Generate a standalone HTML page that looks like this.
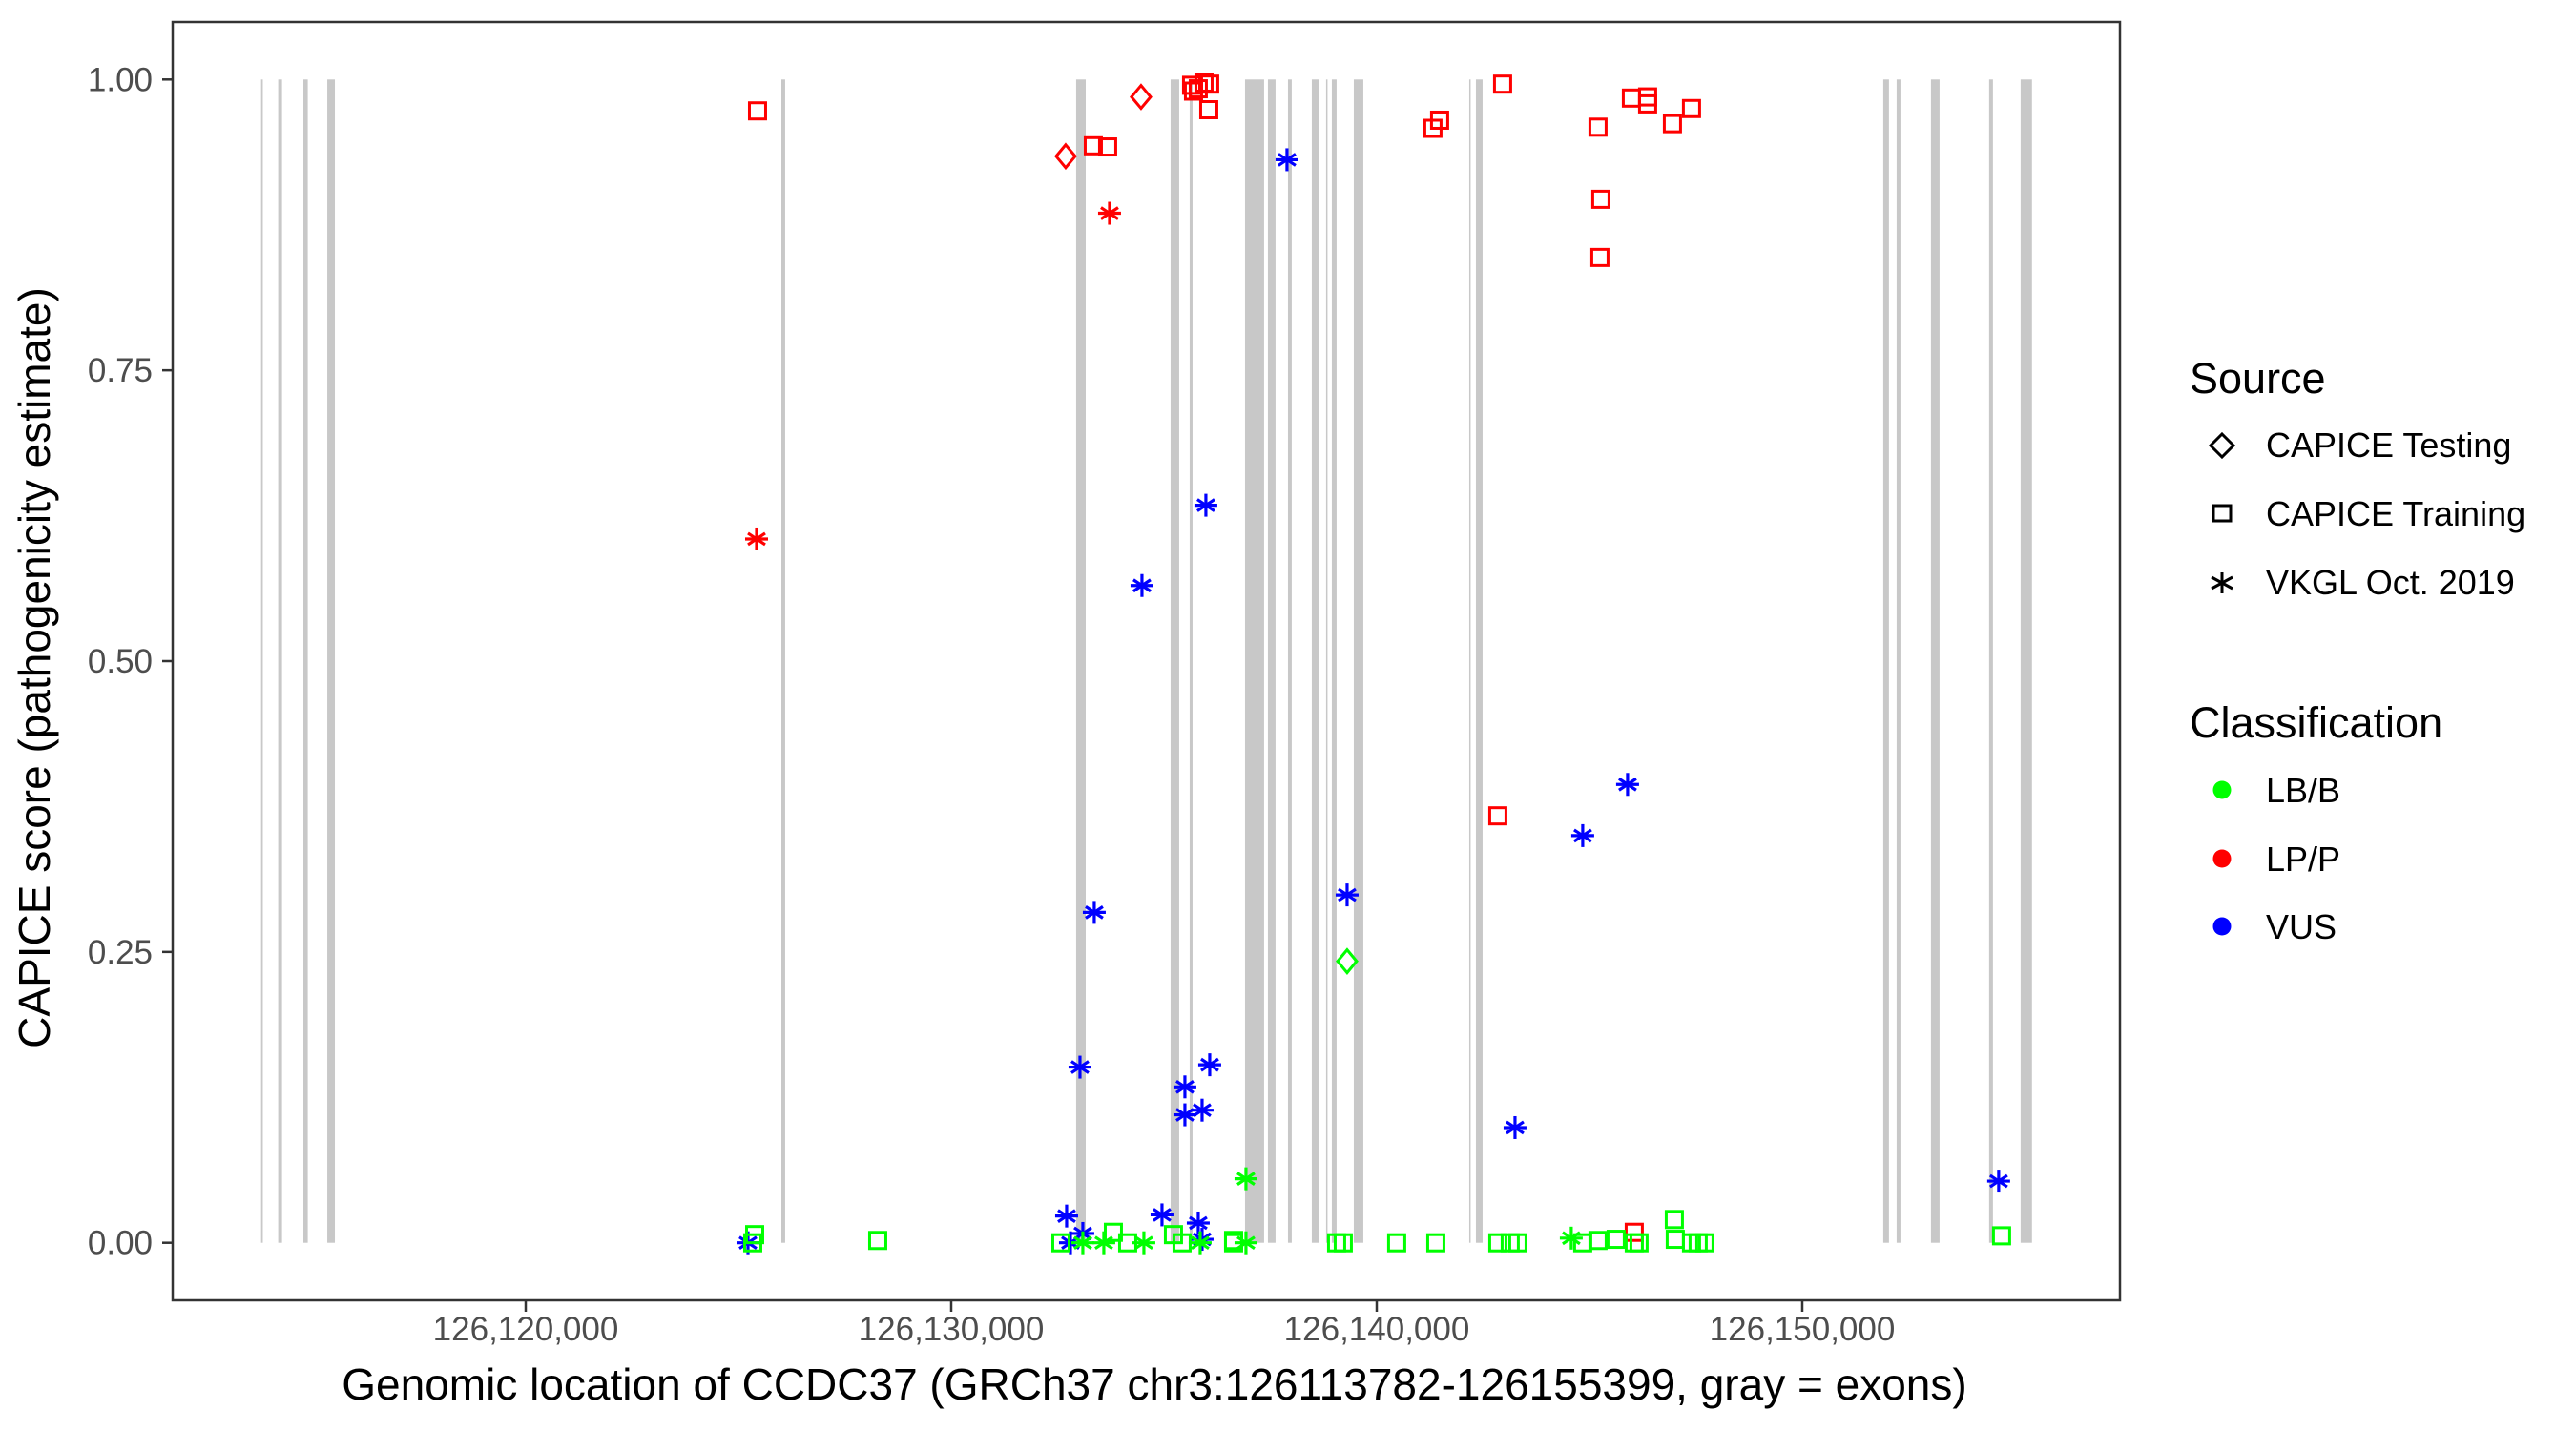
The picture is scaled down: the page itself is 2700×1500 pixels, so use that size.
<!DOCTYPE html>
<html><head><meta charset="utf-8">
<style>
html,body{margin:0;padding:0;background:#fff;}
svg{display:block;font-family:"Liberation Sans",Arial,sans-serif;}
</style></head>
<body>
<svg id="chart" width="2700" height="1500" viewBox="0 0 2700 1500">
  <rect x="0" y="0" width="2700" height="1500" fill="#fff"/>
  <g id="exons"></g>
  <g id="points"></g>
  <rect x="181" y="23" width="2041" height="1340" fill="none" stroke="#333" stroke-width="2.5"/>
  <g id="yaxis"></g>
  <g id="xaxis"></g>
  <text x="40" y="700" transform="rotate(-90 40 700)" text-anchor="middle" dominant-baseline="middle" font-size="46" fill="#000">CAPICE score (pathogenicity estimate)</text>
  <text x="1210" y="1467" text-anchor="middle" font-size="46" fill="#000">Genomic location of CCDC37 (GRCh37 chr3:126113782-126155399, gray = exons)</text>
  <g>
    <text x="2295" y="412" font-size="45" fill="#000">Source</text>
    <g>
      <polygon points="2329,455 2341,467 2329,479 2317,467" fill="none" stroke="#000" stroke-width="3"/>
      <text x="2375" y="479" font-size="36" fill="#000">CAPICE Testing</text>
    </g>
    <g>
      <rect x="2320" y="530" width="18" height="16" fill="none" stroke="#000" stroke-width="3"/>
      <text x="2375" y="551" font-size="36" fill="#000">CAPICE Training</text>
    </g>
    <g>
      <g stroke="#000" stroke-width="3"><line x1="2329" y1="600" x2="2329" y2="622"/><line x1="2318" y1="605" x2="2340" y2="617"/><line x1="2318" y1="617" x2="2340" y2="605"/></g>
      <text x="2375" y="623" font-size="36" fill="#000">VKGL Oct. 2019</text>
    </g>
  </g>
  <g>
    <text x="2295" y="773" font-size="45" fill="#000">Classification</text>
    <g><circle cx="2329" cy="828" r="9.5" fill="#00ff00"/><text x="2375" y="841" font-size="36" fill="#000">LB/B</text></g>
    <g><circle cx="2329" cy="900" r="9.5" fill="#ff0000"/><text x="2375" y="913" font-size="36" fill="#000">LP/P</text></g>
    <g><circle cx="2329" cy="971" r="9.5" fill="#0000ff"/><text x="2375" y="984" font-size="36" fill="#000">VUS</text></g>
  </g>
</svg>
<script>
// Exons: start / end genomic positions
const exonStarts = [126113782,126114184,126114776,126115337,126126009,126132936,126135156,126135604,126136905,126137443,126137914,126138474,126138810,126138945,126139461,126142174,126142331,126151904,126152218,126153025,126154392,126155132];
const exonEnds   = [126113823,126114274,126114879,126115516,126126098,126133161,126135358,126135672,126137353,126137622,126138003,126138653,126138833,126139057,126139685,126142196,126142488,126152038,126152308,126153227,126154482,126155399];

// Variants
const posX = [126125448,126125426,126132690,126134461,126133340,126133676,126133721,126135649,126135806,126135941,126136075,126135694,126136053,126137891,126141321,126141478,126142958,126145200,126145267,126145245,126145985,126146366,126146366,126146949,126147397,
126135985,126134483,126145895,126142846,126144841,126139304,126133362,126139304,126133026,126136075,126135492,126135492,126135896,126143250,126136927,126154616,126132712,126134954,126135806,126125224,126132802,126133093,126135896,126146052,
126125381,126125336,126128273,126132578,126133811,126134147,126135223,126135425,126136636,126136636,126139057,126139214,126140469,126141389,126142846,126143137,126143317,126144841,126145200,126145626,126146052,126146164,126146994,126147016,126147397,126147554,126147711,126154684,126133093,126133586,126134528,126135851,126144572,126136927];
const scoreY = [0.973,0.605,0.934,0.985,0.943,0.942,0.885,0.995,0.992,0.997,0.996,0.990,0.974,0.931,0.958,0.965,0.996,0.959,0.897,0.847,0.984,0.985,0.979,0.962,0.975,
0.634,0.565,0.394,0.367,0.350,0.299,0.284,0.242,0.151,0.153,0.134,0.110,0.114,0.099,0.055,0.053,0.023,0.024,0.017,0.0,0.0,0.008,0.003,0.009,
0.007,0.0,0.002,0.0,0.009,0.0,0.007,0.0,0.002,0.0,0.0,0.0,0.0,0.0,0.0,0.0,0.0,0.0,0.002,0.003,0.0,0.0,0.020,0.003,0.0,0.0,0.0,0.006,0.0,0.0,0.0,0.0,0.004,0.0];
const sourceCat = ['T','V','D','D','T','T','V','T','T','T','T','T','T','V','T','T','T','T','T','T','T','T','T','T','T',
'V','V','V','T','V','V','V','D','V','V','V','V','V','V','V','V','V','V','V','V','V','V','V','T',
'T','T','T','T','T','T','T','T','T','T','T','T','T','T','T','T','T','T','T','T','T','T','T','T','T','T','T','T','V','V','V','V','V','V'];
const classCat = ['P','P','P','P','P','P','P','P','P','P','P','P','P','U','P','P','P','P','P','P','P','P','P','P','P',
'U','U','U','P','U','U','U','B','U','U','U','U','U','U','B','U','U','U','U','U','U','U','U','P',
'B','B','B','B','B','B','B','B','B','B','B','B','B','B','B','B','B','B','B','B','B','B','B','B','B','B','B','B','B','B','B','B','B','B'];
const yTicks = [0, 0.25, 0.5, 0.75, 1];
const yTickLabels = ['0.00','0.25','0.50','0.75','1.00'];
const xTicks = [126120000,126130000,126140000,126150000];
const xTickLabels = ['126,120,000','126,130,000','126,140,000','126,150,000'];

const NS = 'http://www.w3.org/2000/svg';
function xs(v){ return 551 + (v - 126120000) * 0.0446; }
function ys(v){ return 1302.7 - v * 1219.4; }
function mk(tag, attrs, parent){ const e=document.createElementNS(NS,tag); for(const k in attrs) e.setAttribute(k,attrs[k]); parent.appendChild(e); return e; }
const colors = {B:'#00ff00', P:'#ff0000', U:'#0000ff'};

const exG = document.getElementById('exons');
for(let i=0;i<exonStarts.length;i++){
  const x0=xs(exonStarts[i]), x1=xs(exonEnds[i]);
  const r = mk('rect',{x:x0,y:ys(1),width:Math.max(1.5,x1-x0),height:ys(0)-ys(1),fill:'#c8c8c8'},exG);
  
  
}

const pG = document.getElementById('points');
for(let i=0;i<posX.length;i++){
  const cx=xs(posX[i]), cy=ys(scoreY[i]), c=colors[classCat[i]];
  let el;
  if(sourceCat[i]==='T'){
    el = mk('rect',{x:cx-8.5,y:cy-8.5,width:17,height:17,fill:'none',stroke:c,'stroke-width':3},pG);
  } else if(sourceCat[i]==='D'){
    el = mk('polygon',{points:`${cx},${cy-12} ${cx+10},${cy} ${cx},${cy+12} ${cx-10},${cy}`,fill:'none',stroke:c,'stroke-width':3},pG);
  } else {
    el = mk('g',{stroke:c,'stroke-width':3.2},pG);
    mk('line',{x1:cx,y1:cy-12,x2:cx,y2:cy+12},el);
    mk('line',{x1:cx-12,y1:cy,x2:cx+12,y2:cy},el);
    mk('line',{x1:cx-9,y1:cy-6,x2:cx+9,y2:cy+6},el);
    mk('line',{x1:cx-9,y1:cy+6,x2:cx+9,y2:cy-6},el);
  }
  
  
}

const yG = document.getElementById('yaxis');
yTicks.forEach((t,i)=>{
  const y=ys(t);
  const l = mk('line',{x1:170,y1:y,x2:181,y2:y,stroke:'#333','stroke-width':2.5},yG);
  
  
  const tx = mk('text',{x:160,y:y+12,'text-anchor':'end','font-size':35,fill:'#4d4d4d'},yG);
  tx.textContent = yTickLabels[i];
  
  
});
const xG = document.getElementById('xaxis');
xTicks.forEach((t,i)=>{
  const x=xs(t);
  const l = mk('line',{x1:x,y1:1363,x2:x,y2:1375,stroke:'#333','stroke-width':2.5},xG);
  
  
  const tx = mk('text',{x:x,y:1405,'text-anchor':'middle','font-size':35,fill:'#4d4d4d'},xG);
  tx.textContent = xTickLabels[i];
  
  
});
</script>
</body></html>
